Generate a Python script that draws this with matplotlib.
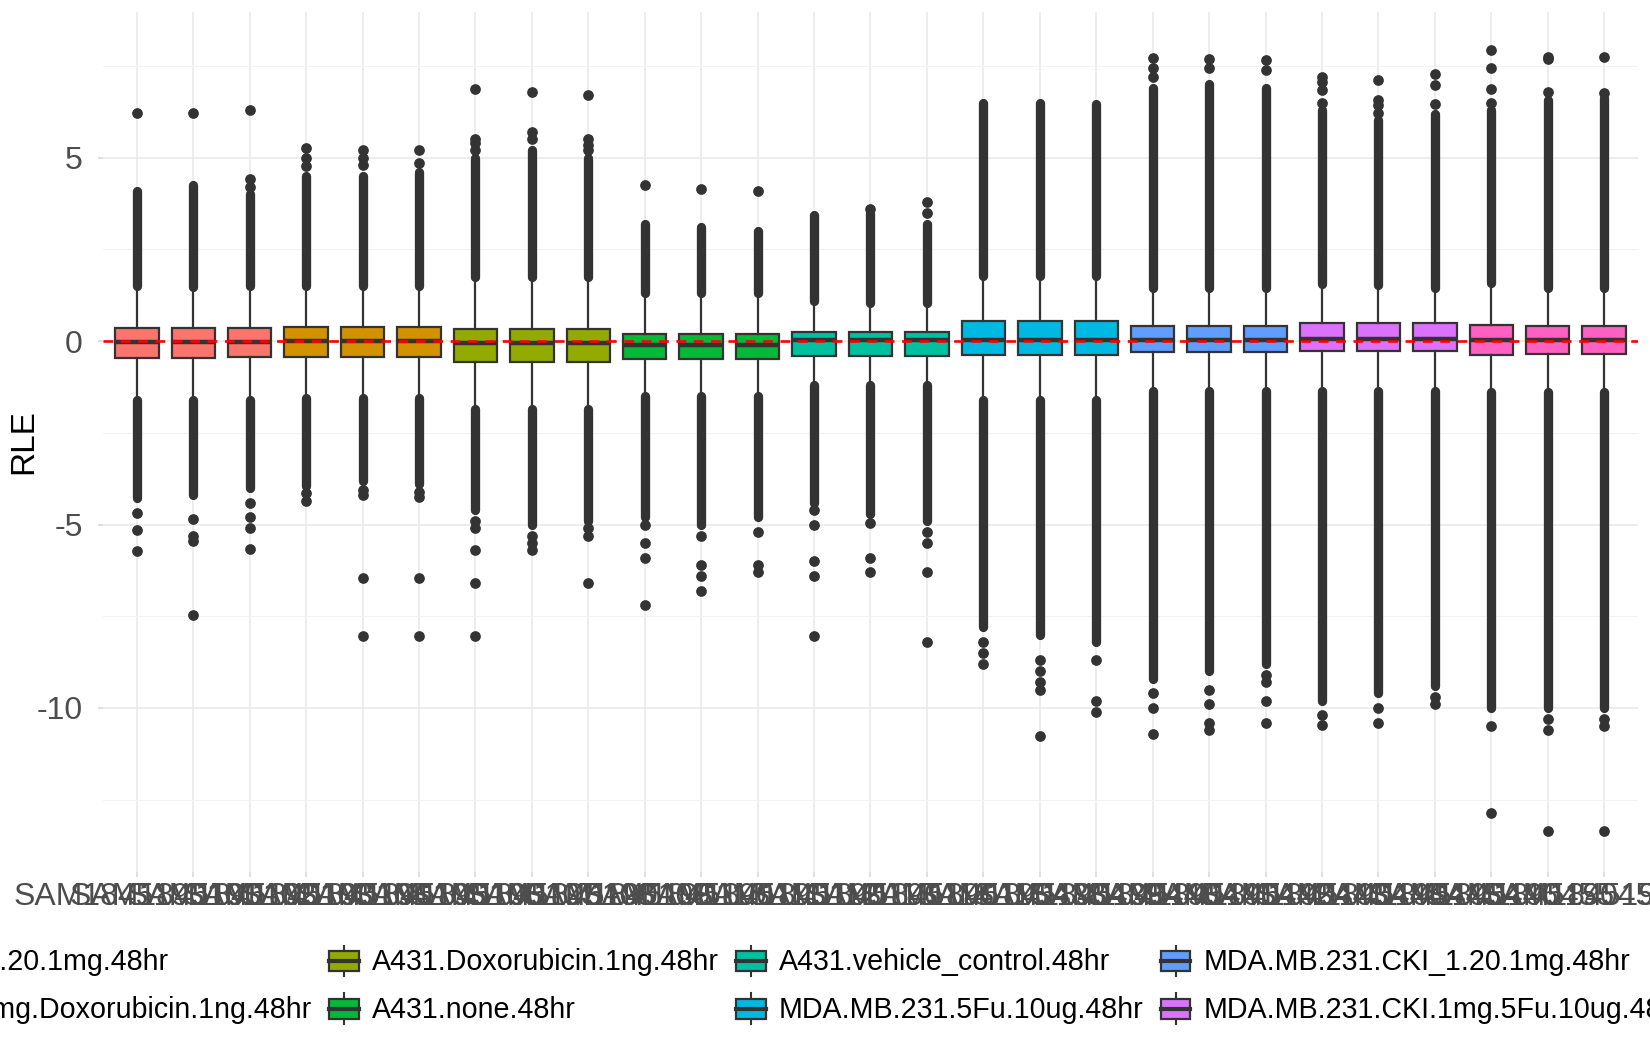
import numpy as np
import matplotlib
matplotlib.use('Agg')
import matplotlib.pyplot as plt
from matplotlib.patches import Rectangle, Patch
from matplotlib.lines import Line2D
from matplotlib.legend_handler import HandlerBase

plt.rcParams['font.family'] = ['Liberation Sans', 'DejaVu Sans']
plt.rcParams['axes.unicode_minus'] = False
plt.rcParams['lines.scale_dashes'] = False

# groups (legend order) and their ggplot hue colours
groups = ['A431.CKI_1.20.1mg.48hr', 'A431.CKI.1mg.Doxorubicin.1ng.48hr',
          'A431.Doxorubicin.1ng.48hr', 'A431.none.48hr',
          'A431.vehicle_control.48hr', 'MDA.MB.231.5Fu.10ug.48hr',
          'MDA.MB.231.CKI_1.20.1mg.48hr', 'MDA.MB.231.CKI.1mg.5Fu.10ug.48hr',
          'MDA.MB.231.none.48hr']
group_colors = ['#F8766D', '#D39200', '#93AA00', '#00BA38', '#00C19F',
                '#00B9E3', '#619CFF', '#DB72FB', '#FF61C3']
sample_group = [0, 0, 0, 1, 1, 1, 2, 2, 2, 3, 3, 3, 4, 4, 4,
                5, 5, 5, 6, 6, 6, 7, 7, 7, 8, 8, 8]

samples = ['SAM1845190101', 'SAM1845190102', 'SAM1845190103', 'SAM1845190104',
           'SAM1845190105', 'SAM1845190106', 'SAM1845190107', 'SAM1845190108',
           'SAM1845190109', 'SAM1845190110', 'SAM1845190111', 'SAM1845190112',
           'SAM1845190113', 'SAM1845190114', 'SAM1845190115', 'SAM1845190438',
           'SAM1845190439', 'SAM1845190440', 'SAM1845190441', 'SAM1845190442',
           'SAM1845190443', 'SAM1845190444', 'SAM1845190445', 'SAM1845190446',
           'SAM1845190455', 'SAM1845190457', 'SAM1845190458']

# box statistics per sample (RLE)
q1 = [-0.45, -0.45, -0.42, -0.42, -0.42, -0.42, -0.56, -0.56, -0.56,
      -0.5, -0.5, -0.5, -0.4, -0.4, -0.4, -0.37, -0.37, -0.37,
      -0.3, -0.3, -0.3, -0.26, -0.26, -0.27, -0.39, -0.34, -0.34]
med = [-0.02, -0.02, -0.02, 0.0, 0.0, 0.0, -0.05, -0.05, -0.05,
       -0.1, -0.1, -0.1, 0.02, 0.02, 0.02, 0.04, 0.04, 0.04,
       0.02, 0.02, 0.02, 0.07, 0.07, 0.07, 0.04, 0.02, 0.02]
q3 = [0.36, 0.36, 0.36, 0.38, 0.38, 0.38, 0.33, 0.33, 0.33,
      0.19, 0.19, 0.19, 0.26, 0.24, 0.24, 0.54, 0.54, 0.54,
      0.42, 0.42, 0.42, 0.5, 0.5, 0.5, 0.45, 0.4, 0.42]
whisk_hi = [1.5, 1.47, 1.5, 1.5, 1.5, 1.5, 1.75, 1.75, 1.75,
            1.3, 1.3, 1.3, 1.1, 1.05, 1.05, 1.77, 1.77, 1.77,
            1.46, 1.46, 1.46, 1.55, 1.54, 1.45, 1.59, 1.45, 1.45]
whisk_lo = [-1.6, -1.6, -1.6, -1.55, -1.55, -1.55, -1.85, -1.85, -1.85,
            -1.5, -1.5, -1.5, -1.2, -1.2, -1.2, -1.6, -1.6, -1.6,
            -1.37, -1.37, -1.37, -1.35, -1.35, -1.35, -1.4, -1.4, -1.4]

# dense runs of outliers (look like a solid column of dots)
streak_top = [4.08, 4.26, 4.0, 4.5, 4.5, 4.6, 5.0, 5.2, 5.0,
              3.2, 3.1, 3.0, 3.45, 3.5, 3.2, 6.5, 6.5, 6.45,
              6.9, 7.0, 6.9, 6.3, 6.03, 6.2, 6.3, 6.58, 6.63]
streak_bot = [-4.27, -4.2, -4.0, -3.95, -3.8, -3.9, -4.6, -5.0, -4.9,
              -4.8, -5.0, -4.8, -4.4, -4.7, -4.9, -7.8, -8.0, -8.2,
              -9.2, -9.0, -8.8, -9.8, -9.6, -9.4, -10.0, -10.0, -10.0]

# isolated outliers
out_hi = [[6.23], [6.23], [4.2, 4.43, 6.29], [4.77, 5.0, 5.26],
          [4.8, 5.0, 5.22], [4.85, 5.22], [5.2, 5.4, 5.5, 6.86],
          [5.5, 5.7, 6.8], [5.2, 5.35, 5.5, 6.72], [4.25], [4.15], [4.1],
          [], [3.6], [3.5, 3.8], [], [], [],
          [7.2, 7.45, 7.72], [7.45, 7.7], [7.4, 7.65],
          [6.5, 6.85, 7.05, 7.2], [6.22, 6.44, 6.58, 7.13], [6.47, 6.97, 7.29],
          [6.49, 6.88, 7.45, 7.94], [6.8, 7.7, 7.75], [6.77, 7.75]]
out_lo = [[-4.69, -5.16, -5.73], [-4.84, -5.3, -5.45, -7.46],
          [-4.4, -4.8, -5.1, -5.66], [-4.15, -4.37],
          [-4.05, -4.2, -6.46, -8.04], [-4.1, -4.25, -6.46, -8.04],
          [-4.9, -5.1, -5.7, -6.6, -8.04], [-5.3, -5.5, -5.7],
          [-5.1, -5.3, -6.6], [-5.0, -5.5, -5.9, -7.2],
          [-5.3, -6.1, -6.4, -6.8], [-5.2, -6.1, -6.3],
          [-4.6, -5.0, -6.0, -6.4, -8.04], [-4.95, -5.9, -6.3],
          [-5.2, -5.5, -6.3, -8.2], [-8.2, -8.5, -8.8],
          [-8.7, -9.0, -9.3, -9.5, -10.75], [-8.7, -9.8, -10.1],
          [-9.6, -10.0, -10.7], [-9.5, -9.9, -10.4, -10.6],
          [-9.1, -9.3, -9.8, -10.4], [-10.2, -10.45], [-10.0, -10.4],
          [-9.7, -9.9], [-10.5, -12.85], [-10.3, -10.6, -13.35],
          [-10.3, -10.5, -13.35]]

DARK = '#333333'
PT = 6.7  # outlier dot size


class BoxKey(HandlerBase):
    # ggplot-like boxplot legend key
    def create_artists(self, legend, orig_handle, xdescent, ydescent,
                       width, height, fontsize, trans):
        bh = height * 0.66
        x0 = -xdescent
        y0 = -ydescent + (height - bh) / 2
        xm = x0 + width / 2
        rect = Rectangle((x0, y0), width, bh, facecolor=orig_handle.get_facecolor(),
                         edgecolor=DARK, lw=1.6, transform=trans)
        mline = Line2D([x0, x0 + width], [y0 + bh / 2] * 2, color=DARK, lw=3, transform=trans)
        wt = Line2D([xm, xm], [y0 + bh, -ydescent + height], color=DARK, lw=1.5, transform=trans)
        wb = Line2D([xm, xm], [-ydescent, y0], color=DARK, lw=1.5, transform=trans)
        return [wt, wb, rect, mline]


fig = plt.figure(figsize=(16.5, 10.5), dpi=100)
ax = fig.add_axes([103 / 1650, 178 / 1050, 1535 / 1650, 860 / 1050])

pos = np.arange(1, len(samples) + 1)

ax.vlines(pos, whisk_hi, streak_top, colors=DARK, lw=PT, capstyle='round', zorder=2)
ax.vlines(pos, streak_bot, whisk_lo, colors=DARK, lw=PT, capstyle='round', zorder=2)

stats = []
for i in range(len(samples)):
    stats.append(dict(q1=q1[i], med=med[i], q3=q3[i], whislo=whisk_lo[i],
                      whishi=whisk_hi[i], fliers=out_hi[i] + out_lo[i]))
bp = ax.bxp(stats, positions=pos, widths=0.77, patch_artist=True, showcaps=False,
            boxprops=dict(edgecolor=DARK, linewidth=1.6),
            medianprops=dict(color=DARK, linewidth=3.2),
            whiskerprops=dict(color=DARK, linewidth=1.6),
            flierprops=dict(marker='o', markersize=PT, markerfacecolor=DARK,
                            markeredgecolor=DARK, linestyle='none'),
            zorder=3)
for patch, g in zip(bp['boxes'], sample_group):
    patch.set_facecolor(group_colors[g])

ax.axhline(0, color='red', lw=1.9, dashes=(7, 5.5), zorder=4)

ax.set_xlim(0.4, 27.6)
ax.set_ylim(-14.47, 8.97)
ax.set_xticks(pos)
ax.set_xticklabels(samples)
ax.set_yticks([-10, -5, 0, 5])
ax.set_yticks([-12.5, -7.5, -2.5, 2.5, 7.5], minor=True)
ax.grid(which='major', color='#E8E8E8', lw=1.1)
ax.grid(which='minor', axis='y', color='#F2F2F2', lw=0.7)
ax.set_axisbelow(True)
for s in ax.spines.values():
    s.set_visible(False)
ax.tick_params(which='major', length=3.6, width=1.1, color='#D6D6D6',
               labelsize=23, labelcolor='#4D4D4D')
ax.tick_params(axis='x', pad=3.6)
ax.tick_params(axis='y', pad=11)
ax.tick_params(which='minor', length=0)

ax.set_ylabel('RLE', fontsize=24, color='black')
ax.yaxis.label.set_va('center')
ax.yaxis.set_label_coords((24 - 103) / 1535, 0.5)

handles = [Patch(facecolor=c) for c in group_colors]
leg = fig.legend(handles, groups, loc='center left', bbox_to_anchor=(0.0, 0.062),
                 bbox_transform=fig.transFigure, ncol=5, frameon=False,
                 fontsize=20.6, handler_map={Patch: BoxKey()},
                 handlelength=1.04, handleheight=1.25, handletextpad=0.45,
                 columnspacing=0.6, labelspacing=0.6, borderpad=0, borderaxespad=0)

# shift legend so that the second column sits where it does in the original
fig.canvas.draw()
x0 = leg.get_texts()[2].get_window_extent().x0
leg.set_bbox_to_anchor((0.0 + (372 - x0) / 1650, 0.062), transform=fig.transFigure)

fig.savefig('out.png', dpi=100)
